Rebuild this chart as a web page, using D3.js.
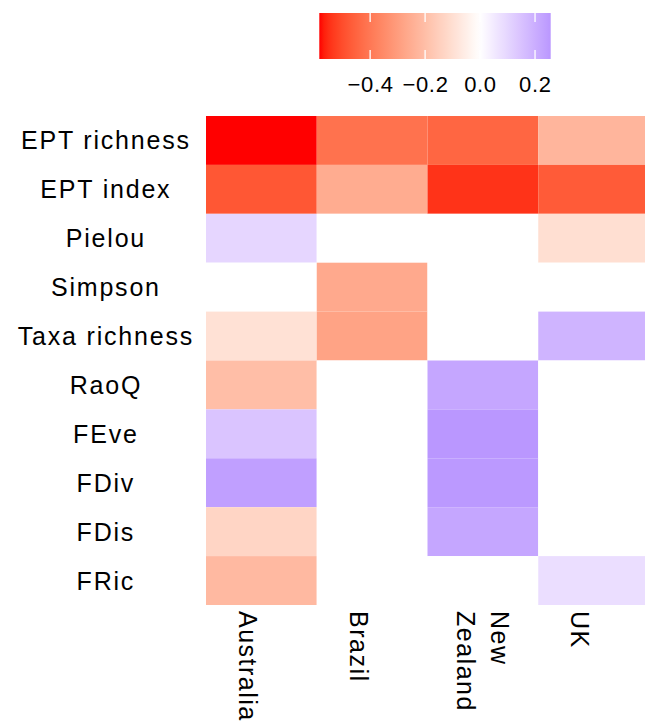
<!DOCTYPE html>
<html>
<head>
<meta charset="utf-8">
<script src="https://cdn.jsdelivr.net/npm/d3@7"></script>
<style>
  body { margin: 0; background: #fff; }
  text { font-family: "Liberation Sans", Arial, sans-serif; fill: #000; }
</style>
</head>
<body>
<svg id="chart" width="645" height="724"></svg>
<script>
// rows (top to bottom) and columns
var metrics = ["EPT richness", "EPT index", "Pielou", "Simpson", "Taxa richness",
  "RaoQ", "FEve", "FDiv", "FDis", "FRic"];
var countries = ["Australia", "Brazil", "New Zealand", "UK"];
var countryLines = [["Australia"], ["Brazil"], ["New", "Zealand"], ["UK"]];

// effect per metric, one array per country (0 = white / not significant)
var australia  = [-0.585, -0.48, 0.10, 0, -0.094, -0.20, 0.144, 0.236, -0.13, -0.215];
var brazil     = [-0.415, -0.254, 0, -0.263, -0.28, 0, 0, 0, 0, 0];
var newZealand = [-0.445, -0.545, 0, 0, 0, 0.22, 0.257, 0.252, 0.22, 0];
var uk         = [-0.227, -0.47, -0.10, 0, 0.184, 0, 0, 0, 0, 0.08];

var legendTicks = [-0.4, -0.2, 0.0, 0.2];

var series = [australia, brazil, newZealand, uk];
var cells = [];
countries.forEach(function (c, j) {
  metrics.forEach(function (m, i) {
    cells.push({ country: c, metric: m, value: series[j][i] });
  });
});

var svg = d3.select("#chart");

var x = d3.scaleBand().domain(countries).range([206, 649]);
var y = d3.scaleBand().domain(metrics).range([116, 605]);

var allVals = cells.map(function (d) { return d.value; });
var vmin = d3.min(allVals), vmax = d3.max(allVals);
var lim = Math.max(Math.abs(vmin), Math.abs(vmax));

// diverging red - white - blue, interpolated in Lab (like gradient2)
var color = d3.scaleLinear()
  .domain([-lim, 0, lim])
  .range(["red", "white", "blue"])
  .interpolate(d3.interpolateLab);

// tiles
svg.append("g")
  .selectAll("rect")
  .data(cells)
  .enter()
  .append("rect")
  .attr("x", function (d) { return x(d.country); })
  .attr("y", function (d) { return y(d.metric); })
  .attr("width", x.bandwidth())
  .attr("height", y.bandwidth())
  .attr("fill", function (d) { return color(d.value); });

// row labels
svg.append("g")
  .selectAll("text")
  .data(metrics)
  .enter()
  .append("text")
  .attr("x", 105.9)
  .attr("y", function (d) { return y(d) + y.bandwidth() / 2 + 9; })
  .attr("text-anchor", "middle")
  .style("font-size", "25px")
  .style("letter-spacing", "1.8px")
  .text(function (d) { return d; });

// column labels, rotated
var colLab = svg.append("g")
  .selectAll("text")
  .data(countries)
  .enter()
  .append("text")
  .attr("transform", function (d, j) {
    var n = countryLines[j].length;
    var cx = x(d) + x.bandwidth() / 2;
    var bx = n == 1 ? cx - 22.5 : cx + 8.5;
    return "translate(" + bx + ",611)rotate(90)";
  })
  .style("font-size", "25px")
  .style("letter-spacing", "1.5px");

colLab.selectAll("tspan")
  .data(function (d, j) { return countryLines[j]; })
  .enter()
  .append("tspan")
  .attr("x", 0)
  .attr("dy", function (d, i) { return i == 0 ? 0 : 34; })
  .text(function (d) { return d; });

// colour bar legend
var lx = d3.scaleLinear().domain([vmin, vmax]).range([319.3, 550.7]);
var legend = svg.append("g");
var grad = svg.append("defs").append("linearGradient")
  .attr("id", "barGrad")
  .attr("x1", "0%").attr("x2", "100%");
d3.range(0, 1.0001, 0.02).forEach(function (f) {
  grad.append("stop")
    .attr("offset", (f * 100) + "%")
    .attr("stop-color", color(vmin + f * (vmax - vmin)));
});
legend.append("rect")
  .attr("x", lx(vmin))
  .attr("y", 13)
  .attr("width", lx(vmax) - lx(vmin))
  .attr("height", 46)
  .attr("fill", "url(#barGrad)");

legendTicks.forEach(function (t) {
  legend.append("line")
    .attr("x1", lx(t)).attr("x2", lx(t))
    .attr("y1", 13).attr("y2", 22)
    .attr("stroke", "#fff").attr("stroke-width", 1.3);
  legend.append("line")
    .attr("x1", lx(t)).attr("x2", lx(t))
    .attr("y1", 50).attr("y2", 59)
    .attr("stroke", "#fff").attr("stroke-width", 1.3);
});

legend.selectAll(".lab")
  .data(legendTicks)
  .enter()
  .append("text")
  .attr("class", "lab")
  .attr("x", function (d) { return lx(d) + 0.4; })
  .attr("y", 92)
  .attr("text-anchor", "middle")
  .style("font-size", "22px")
  .style("letter-spacing", "0.7px")
  .text(function (d) { return d3.format(".1f")(d).replace("-", "\u2212"); });
</script>
</body>
</html>
